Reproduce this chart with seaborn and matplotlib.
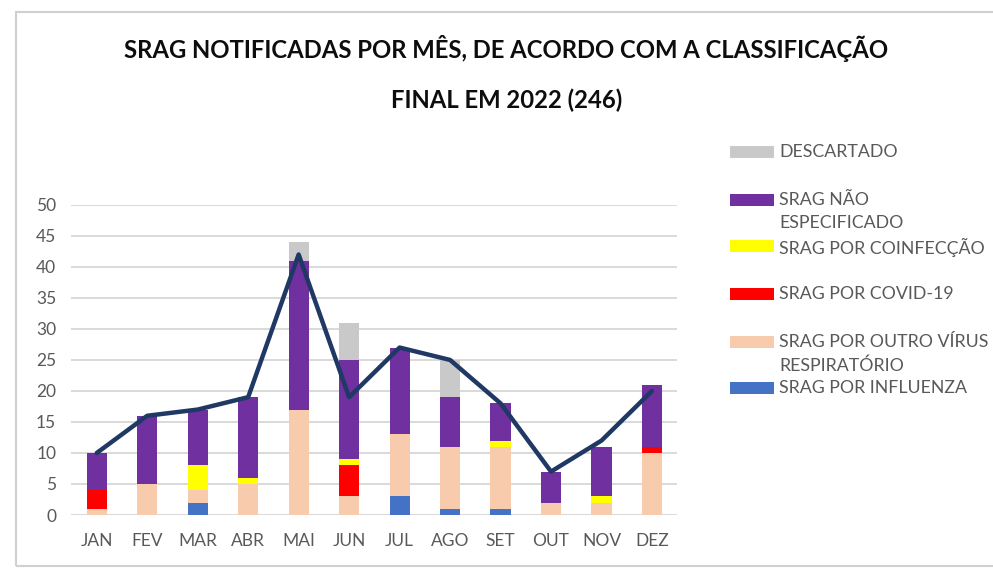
import numpy as np
import pandas as pd
import matplotlib
matplotlib.use('Agg')
import matplotlib.pyplot as plt
from matplotlib.patches import Rectangle
import seaborn as sns

# data
months = ['JAN', 'FEV', 'MAR', 'ABR', 'MAI', 'JUN', 'JUL', 'AGO', 'SET', 'OUT', 'NOV', 'DEZ']
influenza = [0, 0, 2, 0, 0, 0, 3, 1, 1, 0, 0, 0]
outro_virus = [1, 5, 2, 5, 17, 3, 10, 10, 10, 2, 2, 10]
covid = [3, 0, 0, 0, 0, 5, 0, 0, 0, 0, 0, 1]
coinfeccao = [0, 0, 4, 1, 0, 1, 0, 0, 1, 0, 1, 0]
nao_especificado = [6, 11, 9, 13, 24, 16, 14, 8, 6, 5, 8, 10]
descartado = [0, 0, 0, 0, 3, 6, 0, 6, 0, 0, 0, 0]
line_values = [10, 16, 17, 19, 42, 19, 27, 25, 18, 7, 12, 20]

series = [
    ('SRAG POR INFLUENZA', influenza, '#4472C4'),
    ('SRAG POR OUTRO VÍRUS\nRESPIRATÓRIO', outro_virus, '#F8CBAD'),
    ('SRAG POR COVID-19', covid, '#FF0000'),
    ('SRAG POR COINFECÇÃO', coinfeccao, '#FFFF00'),
    ('SRAG NÃO\nESPECIFICADO', nao_especificado, '#7030A0'),
    ('DESCARTADO', descartado, '#C9C9C9'),
]

sns.set_theme(style='white')
plt.rcParams['font.family'] = ['Lato', 'DejaVu Sans']

fig = plt.figure(figsize=(9.93, 5.68), dpi=100)
ax = fig.add_axes([0.072, 0.0933, 0.610, 0.546])

# frame around the chart area
fig.patches.append(Rectangle((16 / 993, 2 / 568), 1.0, 554 / 568, transform=fig.transFigure,
                             facecolor='none', edgecolor='#D0D0D0', lw=1.5, zorder=0))

bottom = np.zeros(len(months))
for name, vals, color in series:
    df = pd.DataFrame({'mes': months, 'valor': vals})
    sns.barplot(data=df, x='mes', y='valor', color=color, bottom=bottom, width=0.4,
                saturation=1, linewidth=0, edgecolor='none', ax=ax, zorder=2)
    bottom = bottom + np.array(vals)

sns.lineplot(x=months, y=line_values, sort=False, color='#203864', lw=3.2, ax=ax, zorder=3)

ax.set_ylim(0, 50)
ax.set_xlim(-0.5, 11.5)
ax.set_yticks(range(0, 51, 5))
ax.yaxis.grid(True, color='#D9D9D9', lw=1.4, zorder=0)
ax.set_axisbelow(True)
for s in ax.spines.values():
    s.set_visible(False)
ax.set_xlabel('')
ax.set_ylabel('')
ax.tick_params(axis='both', colors='#595959', labelsize=12.5, length=0)
ax.tick_params(axis='x', pad=13)
ax.tick_params(axis='y', pad=11)

fig.text(0.51, 1 - 48 / 568, 'SRAG NOTIFICADAS POR MÊS, DE ACORDO COM A CLASSIFICAÇÃO',
         ha='center', va='center', fontsize=17.2, fontweight='bold', color='#0D0D0D')
fig.text(0.51, 1 - 100 / 568, 'FINAL EM 2022 (246)',
         ha='center', va='center', fontsize=17.2, fontweight='bold', color='#0D0D0D')

# legend drawn as patches + text, matching the reference's spacing
legend_rows = [
    ('DESCARTADO', '#C9C9C9', 152),
    ('SRAG NÃO\nESPECIFICADO', '#7030A0', 200),
    ('SRAG POR COINFECÇÃO', '#FFFF00', 246),
    ('SRAG POR COVID-19', '#FF0000', 294),
    ('SRAG POR OUTRO VÍRUS\nRESPIRATÓRIO', '#F8CBAD', 342),
    ('SRAG POR INFLUENZA', '#4472C4', 388),
]
for label, color, ypix in legend_rows:
    fig.patches.append(Rectangle((730 / 993, 1 - (ypix + 6) / 568), 44 / 993, 12 / 568,
                                 transform=fig.transFigure, facecolor=color, edgecolor='none'))
    fig.text(779 / 993, 1 - (ypix - 8) / 568, label, ha='left', va='top', fontsize=12.8,
             color='#595959', linespacing=1.55)

fig.savefig('out.png', dpi=100)
